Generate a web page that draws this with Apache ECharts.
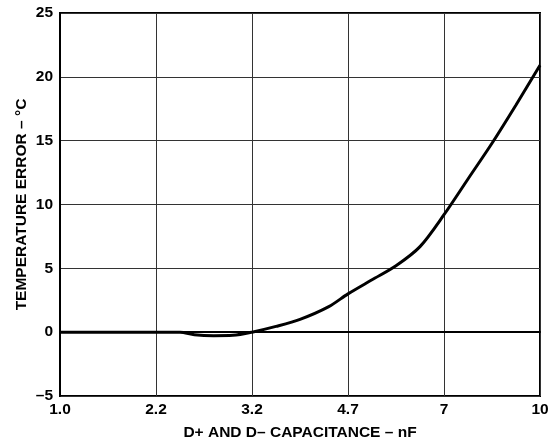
<!DOCTYPE html>
<html><head><meta charset="utf-8">
<script src="https://cdn.jsdelivr.net/npm/echarts@6/dist/echarts.min.js"></script>
<style>html,body{margin:0;padding:0;background:#fff}#c{width:557px;height:443px}</style>
</head><body><div id="c"></div>
<script>
// x tick labels (equally spaced on the chart)
var xTickLabels = ['1.0', '2.2', '3.2', '4.7', '7', '10'];
// curve: position along the tick sequence (0 = '1.0', 5 = '10') and temperature error in °C
var curveX = [0, 0.5, 1, 1.25, 1.4, 1.6, 1.8, 2, 2.25, 2.5, 2.8, 3, 3.25, 3.5, 3.75, 4, 4.25, 4.5, 4.75, 5];
var curveY = [0, 0, 0, 0, -0.2, -0.28, -0.25, 0, 0.45, 1.0, 2.0, 3.0, 4.1, 5.2, 6.7, 9.2, 12.0, 14.8, 17.8, 20.9];
var yMin = -5, yMax = 25, yStep = 5;

var data = curveX.map(function (x, i) { return [x, curveY[i]]; });
var font = 'Liberation Sans, Arial, sans-serif';
var fs = 15.5;
var chart = echarts.init(document.getElementById('c'));
chart.setOption({
  animation: false,
  grid: { left: 60, right: 17, top: 13, bottom: 47, show: true, borderColor: '#000', borderWidth: 2,
    outerBoundsMode: 'none', containLabel: false },
  xAxis: {
    type: 'value', min: 0, max: xTickLabels.length - 1, interval: 1,
    name: 'D+ AND D– CAPACITANCE – nF', nameLocation: 'middle', nameGap: 29, nameMoveOverlap: false,
    nameTextStyle: { fontFamily: font, fontWeight: 'bold', fontSize: fs, color: '#000' },
    axisLine: { show: true, lineStyle: { color: '#000', width: 2 } },
    axisTick: { show: false },
    axisLabel: { fontFamily: font, fontWeight: 'bold', fontSize: fs, color: '#000', margin: 6,
      formatter: function (v) { return xTickLabels[Math.round(v)]; } },
    splitLine: { show: true, lineStyle: { color: '#333', width: 1 } }
  },
  yAxis: {
    type: 'value', min: yMin, max: yMax, interval: yStep,
    name: 'TEMPERATURE ERROR – °C', nameLocation: 'middle', nameGap: 30, nameMoveOverlap: false,
    nameTextStyle: { fontFamily: font, fontWeight: 'bold', fontSize: fs, color: '#000' },
    axisLine: { show: true, lineStyle: { color: '#000', width: 2 } },
    axisTick: { show: false },
    axisLabel: { fontFamily: font, fontWeight: 'bold', fontSize: fs, color: '#000', margin: 7,
      formatter: function (v) { return v < 0 ? '–' + Math.abs(v) : String(v); } },
    splitLine: { show: true, lineStyle: { color: '#333', width: 1 } }
  },
  series: [{
    type: 'line', data: data, smooth: 0.3, showSymbol: false,
    lineStyle: { color: '#000', width: 3 }
  }]
});
</script></body></html>
